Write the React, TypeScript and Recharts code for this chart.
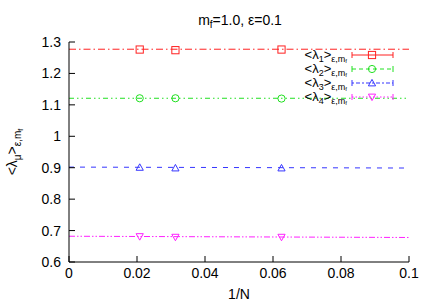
import React from "react"
import {
  ComposedChart,
  Line,
  Scatter,
  XAxis,
  YAxis,
} from "recharts"

// 1/N for N = 48, 32, 16
const invN = [0.0208, 0.0313, 0.0625]
const lambda1 = [1.276, 1.274, 1.276]
const lambda2 = [1.121, 1.121, 1.12]
const lambda3 = [0.901, 0.899, 0.899]
const lambda4 = [0.681, 0.679, 0.679]

// fit lines, evaluated at the plot edges
const fitX = [0, 0.1]
const fit1 = [1.277, 1.277]
const fit2 = [1.121, 1.121]
const fit3 = [0.902, 0.899]
const fit4 = [0.682, 0.678]

const xTicks = [0, 0.02, 0.04, 0.06, 0.08, 0.1]
const yTicks = [0.6, 0.7, 0.8, 0.9, 1, 1.1, 1.2, 1.3]

const FONT = "'Liberation Sans', Arial, Helvetica, sans-serif"

const toPoints = (xs: number[], ys: number[]) => xs.map((x, i) => ({ x, y: ys[i] }))

const series = [
  { name: "1", color: "#ff2020", pts: lambda1, fit: fit1, fitDash: "7,3,1.5,3", legendDash: undefined, shape: "square" },
  { name: "2", color: "#20e020", pts: lambda2, fit: fit2, fitDash: "5,3,1.5,3,1.5,3", legendDash: "4,3", shape: "circle" },
  { name: "3", color: "#3535ff", pts: lambda3, fit: fit3, fitDash: "5,6", legendDash: "2,2,4,2", shape: "triangle" },
  { name: "4", color: "#ff20ff", pts: lambda4, fit: fit4, fitDash: "6,2,1.5,2,1.5,2", legendDash: "1.5,2", shape: "triangleDown" },
]

function Marker({ cx, cy, color, shape }: { cx: number; cy: number; color: string; shape: string }) {
  const s = 3.6
  if (shape === "square")
    return <rect x={cx - s} y={cy - s} width={2 * s} height={2 * s} fill="none" stroke={color} strokeWidth={1} />
  if (shape === "circle") return <circle cx={cx} cy={cy} r={s} fill="none" stroke={color} strokeWidth={1} />
  if (shape === "triangle")
    return (
      <polygon
        points={`${cx},${cy - s} ${cx - s},${cy + s * 0.8} ${cx + s},${cy + s * 0.8}`}
        fill="none"
        stroke={color}
        strokeWidth={1}
      />
    )
  return (
    <polygon
      points={`${cx},${cy + s} ${cx - s},${cy - s * 0.8} ${cx + s},${cy - s * 0.8}`}
      fill="none"
      stroke={color}
      strokeWidth={1}
    />
  )
}

// title + legend drawn over the chart
function Overlay() {
  return (
    <svg
      width={436}
      height={305}
      style={{ position: "absolute", left: 0, top: 0, pointerEvents: "none" }}
    >
      <text x={240} y={25} textAnchor="middle" fontFamily={FONT} fontSize={14} fill="#000">
        m<tspan fontSize={10} dy={3}>f</tspan>
        <tspan dy={-3}>=1.0, ε=0.1</tspan>
      </text>
      {series.map((s, i) => {
        const cy = 55 + i * 14
        return (
          <g key={s.name}>
            <text x={347} y={cy + 4} textAnchor="end" fontFamily={FONT} fontSize={13} fill="#000">
              {"<λ"}
              <tspan fontSize={9} dy={3}>{s.name}</tspan>
              <tspan dy={-3}>{">"}</tspan>
              <tspan fontSize={9} dy={3}>{"ε,m"}</tspan>
              <tspan fontSize={6} dy={1}>{"f"}</tspan>
            </text>
            <line x1={352} x2={393} y1={cy} y2={cy} stroke={s.color} strokeDasharray={s.legendDash} />
            <line x1={352} x2={352} y1={cy - 3} y2={cy + 3} stroke={s.color} />
            <line x1={393} x2={393} y1={cy - 3} y2={cy + 3} stroke={s.color} />
            <Marker cx={372} cy={cy} color={s.color} shape={s.shape} />
          </g>
        )
      })}
    </svg>
  )
}

function YLabel(props: any) {
  const vb = props.viewBox || {}
  const cx = 17
  const cy = (vb.y ?? 42) + (vb.height ?? 220) / 2
  return (
    <text
      x={cx}
      y={cy}
      transform={`rotate(-90 ${cx} ${cy})`}
      textAnchor="middle"
      fontFamily={FONT}
      fontSize={14}
      fill="#000"
    >
      {"<λ"}
      <tspan fontSize={10} dy={4}>μ</tspan>
      <tspan dy={-4}>{">"}</tspan>
      <tspan fontSize={10} dy={4}>{"ε,m"}</tspan>
      <tspan fontSize={7} dy={2}>f</tspan>
    </text>
  )
}

function XLabel(props: any) {
  const vb = props.viewBox || {}
  const cx = (vb.x ?? 69) + (vb.width ?? 340) / 2
  return (
    <text x={cx} y={299} textAnchor="middle" fontFamily={FONT} fontSize={14} fill="#000">
      1/N
    </text>
  )
}

export default function App() {
  const tickStyle = { fontSize: 14, fontFamily: FONT, fill: "#000" }
  const axisStroke = { stroke: "#000", strokeWidth: 1 }
  return (
    <div style={{ position: "absolute", left: 0, top: 0, width: 436, height: 305, background: "#fff" }}>
      <ComposedChart width={436} height={305} margin={{ top: 42, right: 27, bottom: 0, left: 0 }}>
        <XAxis
          xAxisId="b"
          type="number"
          dataKey="x"
          domain={[0, 0.1]}
          ticks={xTicks}
          allowDataOverflow
          height={43}
          tickSize={-6}
          tickMargin={12}
          tick={tickStyle}
          axisLine={axisStroke}
          tickLine={axisStroke}
          label={<XLabel />}
        />
        <XAxis
          xAxisId="t"
          orientation="top"
          type="number"
          dataKey="x"
          domain={[0, 0.1]}
          ticks={xTicks}
          height={0}
          tickSize={-6}
          tick={false}
          axisLine={axisStroke}
          tickLine={axisStroke}
        />
        <YAxis
          yAxisId="l"
          type="number"
          dataKey="y"
          domain={[0.6, 1.3]}
          ticks={yTicks}
          allowDataOverflow
          width={69}
          tickSize={-6}
          tickMargin={14}
          tick={tickStyle}
          axisLine={axisStroke}
          tickLine={axisStroke}
          label={<YLabel />}
        />
        <YAxis
          yAxisId="r"
          orientation="right"
          type="number"
          dataKey="y"
          domain={[0.6, 1.3]}
          ticks={yTicks}
          width={0}
          tickSize={-6}
          tick={false}
          axisLine={axisStroke}
          tickLine={axisStroke}
        />
        {series.map((s) => (
          <Line
            key={"fit" + s.name}
            xAxisId="b"
            yAxisId="l"
            data={toPoints(fitX, s.fit)}
            dataKey="y"
            type="linear"
            stroke={s.color}
            strokeWidth={1}
            strokeDasharray={s.fitDash}
            dot={false}
            activeDot={false}
            isAnimationActive={false}
          />
        ))}
        {series.map((s) => (
          <Scatter
            key={"pts" + s.name}
            xAxisId="b"
            yAxisId="l"
            data={toPoints(invN, s.pts)}
            dataKey="y"
            fill={s.color}
            isAnimationActive={false}
            shape={(p: any) => <Marker cx={p.cx} cy={p.cy} color={s.color} shape={s.shape} />}
          />
        ))}
      </ComposedChart>
      <Overlay />
    </div>
  )
}
